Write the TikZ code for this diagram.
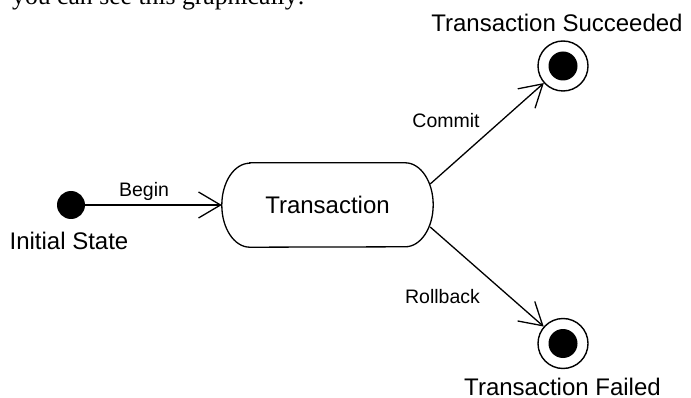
\documentclass[tikz,border=0pt]{standalone}
\usepackage{fontspec}
\setmainfont{Liberation Sans}
\newfontfamily\bodyserif{Liberation Serif}
\usetikzlibrary{arrows.meta}
\begin{document}
\begin{tikzpicture}[x=1pt,y=-1pt,
  bigtext/.style={font=\fontsize{24}{28}\selectfont, inner sep=0pt},
  smalltext/.style={font=\fontsize{19.5}{23}\selectfont, inner sep=0pt},
  flow/.style={line width=1.3pt, -{Straight Barb[length=22pt,width=26pt]}},
  startdot/.style={circle, fill=black, inner sep=0pt, minimum size=28pt},
  finalstate/.style={circle, draw, line width=1.4pt, inner sep=0pt, minimum size=50pt,
    path picture={\fill[black] (path picture bounding box.center) circle (14.5pt);}},
  statebox/.style={line width=1.3pt}
]
\useasboundingbox (0,0) rectangle (691,398);
\clip (0,0) rectangle (691,398);
\fill[white] (0,0) rectangle (691,398);

% running text above the figure
\node[anchor=base, inner sep=0pt, font=\bodyserif\fontsize{25.7}{30}\selectfont] (intro) at (158.5,5) {you can see this graphically:};

% states
\node[startdot] (init) at (71,205) {};
\node[bigtext, minimum width=211pt, minimum height=84pt] (trans) at (327.5,205) {Transaction};
\node[finalstate] (succ) at (563,66) {};
\node[finalstate] (fail) at (563,343.5) {};

% outline of the transaction state: straight top/bottom, elliptic ends
\draw[statebox] ([xshift=28pt]trans.north west) -- ([xshift=-28pt]trans.north east)
  arc[start angle=90, end angle=-90, x radius=28pt, y radius=42pt]
  -- ([xshift=28pt]trans.south west)
  arc[start angle=270, end angle=90, x radius=28pt, y radius=42pt] -- cycle;

% state names
\node[bigtext, anchor=base] (initname) at (69,250) {Initial State};
\node[bigtext, anchor=base] (succname) at (557,32) {Transaction Succeeded};
\node[bigtext, anchor=base] (failname) at (562.5,395) {Transaction Failed};

% transitions
\draw[flow] (init) -- (trans.west);
\draw[flow] ([xshift=-3pt,yshift=21pt]trans.east) -- (succ);
\draw[flow] ([xshift=-3pt,yshift=-22pt]trans.east) -- (fail);

% transition labels
\node[smalltext, anchor=base] (beginlbl) at (144,197) {Begin};
\node[smalltext, anchor=base] (commitlbl) at (446,128) {Commit};
\node[smalltext, anchor=base] (rollbacklbl) at (442.5,303) {Rollback};
\end{tikzpicture}
\end{document}
